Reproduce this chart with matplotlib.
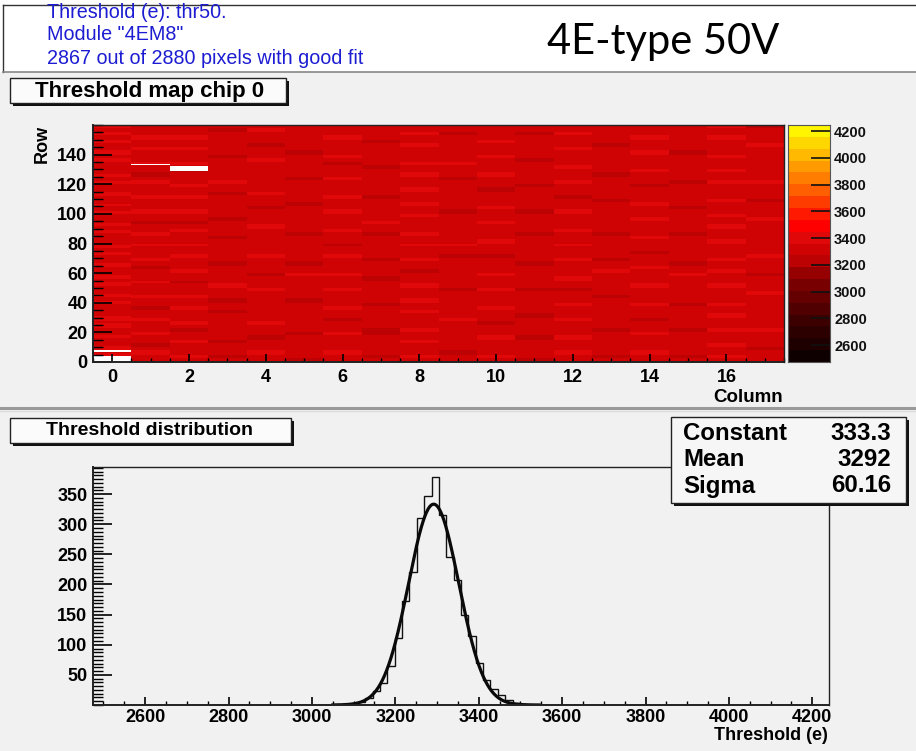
import numpy as np
import matplotlib
matplotlib.use('Agg')
import matplotlib.pyplot as plt
from matplotlib.colors import ListedColormap, BoundaryNorm
from matplotlib.patches import Rectangle
from matplotlib.ticker import MultipleLocator

# ---------------- data ----------------
header_lines = ['Threshold (e): thr50.', 'Module "4EM8"', '2867 out of 2880 pixels with good fit']
big_label = '4E-type 50V'
map_title = 'Threshold map chip 0'
hist_title = 'Threshold distribution'

n_cols, n_rows = 18, 160
# per-column pattern, bottom->top, d=darker / m=typical / b=brighter threshold
level_values = {'d': 3230.0, 'm': 3310.0, 'b': 3400.0}
column_patterns = [
    "mbmbmmbmmbmbmmmbmbmmbmbmmbmmbmbmmmbmbmmbmbmmbmmbmbmmmbmbmmbmbmb",
    "mmbmdmmbmmmbmmdmmbmmmbmmmdmbmmmbmmbmmdmmbmmmbmmmbmdmmbmmmbmmbmmm",
    "mbmmmbmmdmbmmmbmmbmmmdmmbmmmbmmbmmmbmdmmbmmmbmmbmmmdmbmmmbmmbmmm",
    "mdmmmdmmmmmmmdmmdmmmbmmmmmdmmmmmmdmmmmdmmmmmmdmmbmmmmmmdmmmmmmdm",
    "mmbmmmdmmmbmmmmmmmmbmmmdmmmmbmmmmmmmbmmmmdmmmbmmmmmmmmbmmmdmmmbm",
    "dmmmmmmdmmmmmmmmdmmmmmmbmmdmmmmmmmdmmmmmmmdmmmmmmdmmmmmmdmmmmmmm",
    "mmbmmmmbmmmdmmbmmmmbmmmbmmmmbmmdmmmbmmmmbmmmbmmmmbmmmdmbmmmmbmmm",
    "mdmmmmmddmmmmmmdmmmmmmdmmmmdmmmmmmdmmbmmmmmmdmmmmmmmdmmmmmmdmmmm",
    "mbmmmbmmbmmmmbmmbmmmbmmmdmmbmmmbmmbmmmmbmmbmmmbmmmbmmbmmmmbmmbmm",
    "mmdmmmmmmmmbmmmmmmmdmmmmmmmmdmmbmmmmmmmmdmmmmmmmmdmmmbmmmmmmmdmm",
    "mbmmmmbmmmdmmmbmmmmbmmmbmmmmdmmmbmmmmbmmmbmmmmdmmmbmmmmbmmmbmmmm",
    "dmmmmmdmmmmmdmmmmmmdmmmmmmdmmmmmmmdmmmmmdmmmmmmdmmmmmmdmmmmmmdmm",
    "mmbmmmbmmmmbmmmbmmmdmmbmmmmbmmmbmmmbmmmmbmmmdmmmbmmmbmmmmbmmmbmm",
    "mdmmmmmmdmmmmmmmmdmmmmmmbmmdmmmmmmdmmmmmmmmdmmmmmmdmmmmmmmdmmmmm",
    "mmbmmmmbmmmdmmmbmmmmbmmmmbmmmdmmmbmmmmbmmmbmmmmdmmmbmmmmbmmmbmmm",
    "mdmmmmmmdmmmmmmdmmmmmmmbmmdmmmmmmmdmmmmmmdmmmmmmdmmmmmmmdmmmmmmm",
    "mbmmbmmmbmmmbmmbmmmmbmmmbmmbmmmmbmmmbmmbmmmbmmmmbmmbmmmbmmmmbmmb",
    "mmmdmmmmbmmmmmmmmmbmmmmdmmmmbmmmmmmmmmbmmmmdmmmmbmmmmmmmmmbmmmmd",
]
bad_pixels = [(0, 0), (0, 1), (0, 2), (0, 3), (0, 7), (1, 133), (2, 129), (2, 130), (2, 131)]
map_yticks = [0, 20, 40, 60, 80, 100, 120, 140]

z_min, z_max, n_levels = 2473.0, 4245.0, 20
band_colors = ['#0f0000', '#1e0000', '#2d0000', '#3c0000', '#500000', '#640000',
               '#780000', '#960000', '#bc0202', '#cf0303', '#e00808', '#ff0000',
               '#ff1900', '#ff3c00', '#ff5f00', '#ff7d00', '#ff9b00', '#ffb900',
               '#ffd700', '#fff500']
cbar_ticks = [2600, 2800, 3000, 3200, 3400, 3600, 3800, 4000, 4200]

hist_lo, hist_hi, hist_nbins = 2475.0, 4240.0, 100
hist_first_bin = 34
hist_counts = [1, 2, 5, 11, 24, 37, 64, 111, 172, 221, 310, 347, 378, 315, 246,
               208, 150, 114, 70, 42, 26, 16, 8, 3, 1]
hist_yticks = [50, 100, 150, 200, 250, 300, 350]
fit_constant, fit_mean, fit_sigma = 333.3, 3292.0, 60.16
fit_range = (3050.0, 3545.0)
stats_names = ['Constant', 'Mean', 'Sigma']
stats_values = ['333.3', '3292', '60.16']

# ---------------- figure ----------------
W, H = 916, 751
BG = '#f1f1f1'
fig = plt.figure(figsize=(W / 100, H / 100), dpi=100)
fig.patch.set_facecolor(BG)
plt.rcParams['font.family'] = ['Liberation Sans', 'DejaVu Sans']


def fx(x):
    return x / W


def fy(y):
    return 1 - y / H


def add_axes_px(x0, y0, x1, y1):
    return fig.add_axes([fx(x0), fy(y1), (x1 - x0) / W, (y1 - y0) / H])


def rect_px(x0, y0, x1, y1, **kw):
    r = Rectangle((fx(x0), fy(y1)), (x1 - x0) / W, (y1 - y0) / H,
                  transform=fig.transFigure, **kw)
    fig.patches.append(r)
    return r


def fig_line(x0, y0, x1, y1, **kw):
    fig.lines.append(plt.Line2D([fx(x0), fx(x1)], [fy(y0), fy(y1)],
                                transform=fig.transFigure, **kw))


def shadow_box(x0, y0, x1, y1, fc='#fbfbfb', sh=3):
    rect_px(x0 + sh, y0 + sh, x1 + sh, y1 + sh, facecolor='#111111', edgecolor='none', zorder=5)
    rect_px(x0, y0, x1, y1, facecolor=fc, edgecolor='#222222', linewidth=1.0, zorder=6)


# header box
rect_px(-2, -2, W + 2, 72, facecolor='white', edgecolor='none', zorder=1)
fig_line(3, 5, W, 5, color='#333333', lw=1)
fig_line(3, 5, 3, 72, color='#333333', lw=1)
fig_line(3, 72, W, 72, color='#888888', lw=1.2)
for i, (line, yy) in enumerate(zip(header_lines, [13, 35, 58])):
    fig.text(fx(47), fy(yy), line, color='#1c1cd2', fontsize=14.2,
             ha='left', va='center', zorder=10)
fig.text(fx(663), fy(42), big_label, fontsize=30, family=['Lato', 'DejaVu Sans'],
         ha='center', va='center', color='black', zorder=10)

# pad separator
fig_line(0, 408, W, 408, color='#9a9a9a', lw=2.2)
fig_line(0, 411, W, 411, color='#dcdcdc', lw=1)

# ---------------- heatmap ----------------
grid = np.zeros((n_rows, n_cols))
for c, pat in enumerate(column_patterns):
    for r in range(n_rows):
        grid[r, c] = level_values[pat[r * len(pat) // n_rows]]
mask = np.zeros_like(grid, dtype=bool)
for c, r in bad_pixels:
    mask[r, c] = True
zdata = np.ma.array(grid, mask=mask)

cmap = ListedColormap(band_colors)
cmap.set_bad('white')
bounds = np.linspace(z_min, z_max, n_levels + 1)
norm = BoundaryNorm(bounds, cmap.N)

TICK_FS = 13
ax_map = add_axes_px(93, 125, 784, 362)
ax_map.pcolormesh(np.arange(n_cols + 1) - 0.5, np.arange(n_rows + 1), zdata,
                  cmap=cmap, norm=norm, shading='flat')
ax_map.set_xlim(-0.5, n_cols - 0.5)
ax_map.set_ylim(0, n_rows)
ax_map.xaxis.set_major_locator(MultipleLocator(2))
ax_map.xaxis.set_minor_locator(MultipleLocator(0.5))
ax_map.set_yticks(map_yticks)
ax_map.yaxis.set_minor_locator(MultipleLocator(5))
ax_map.tick_params(axis='x', which='major', direction='in', length=6, width=1.2, pad=5,
                   labelsize=TICK_FS, top=False)
ax_map.tick_params(axis='x', which='minor', direction='in', length=3, width=1, top=False)
ax_map.tick_params(axis='y', which='major', direction='in', length=14, width=1.2, pad=4,
                   labelsize=TICK_FS, right=False)
ax_map.tick_params(axis='y', which='minor', direction='in', length=7, width=1, right=False)
for lab in ax_map.get_xticklabels() + ax_map.get_yticklabels():
    lab.set_fontweight('bold')
for sp in ax_map.spines.values():
    sp.set_color('#222222')
    sp.set_linewidth(1.0)
ax_map.spines['left'].set_linewidth(1.4)
ax_map.spines['bottom'].set_linewidth(1.4)
ax_map.set_zorder(3)

fig.text(fx(42), fy(125), 'Row', rotation=90, ha='center', va='top', fontsize=13,
         fontweight='bold')
fig.text(fx(783), fy(397), 'Column', ha='right', va='center', fontsize=13.5,
         fontweight='bold')

# colour bar
ax_cb = add_axes_px(788, 125, 830, 362)
centers = 0.5 * (bounds[:-1] + bounds[1:])
ax_cb.pcolormesh([0, 1], bounds, centers.reshape(-1, 1), cmap=cmap, norm=norm, shading='flat')
ax_cb.set_xlim(0, 1)
ax_cb.set_ylim(z_min, z_max)
ax_cb.set_xticks([])
ax_cb.yaxis.tick_right()
ax_cb.set_yticks(cbar_ticks)
ax_cb.tick_params(axis='y', direction='in', length=14, width=1.2, pad=3, labelsize=10.5,
                  colors='#111111', left=False)
for lab in ax_cb.get_yticklabels():
    lab.set_fontweight('bold')
for sp in ax_cb.spines.values():
    sp.set_color('#555555')
    sp.set_linewidth(0.8)
ax_cb.set_zorder(3)

# title box (map)
shadow_box(10, 78, 286, 103)
fig.text(fx(150), fy(91), map_title, ha='center', va='center', fontsize=16,
         fontweight='bold', zorder=10)

# ---------------- histogram ----------------
edges = np.linspace(hist_lo, hist_hi, hist_nbins + 1)
counts = np.zeros(hist_nbins)
counts[hist_first_bin:hist_first_bin + len(hist_counts)] = hist_counts

ax_h = add_axes_px(93, 467, 829, 705)
ax_h.set_facecolor(BG)
ax_h.stairs(counts, edges, color='#111111', linewidth=1.0)
xf = np.linspace(fit_range[0], fit_range[1], 400)
yf = fit_constant * np.exp(-0.5 * ((xf - fit_mean) / fit_sigma) ** 2)
ax_h.plot(xf, yf, color='#0a0a0a', linewidth=2.3)
ax_h.set_xlim(hist_lo, hist_hi)
ax_h.set_ylim(0, 395)
ax_h.xaxis.set_major_locator(MultipleLocator(200))
ax_h.xaxis.set_minor_locator(MultipleLocator(50))
ax_h.set_yticks(hist_yticks)
ax_h.yaxis.set_minor_locator(MultipleLocator(6.25))
ax_h.tick_params(axis='x', which='major', direction='in', length=6, width=1.2, pad=3,
                 labelsize=TICK_FS, top=False)
ax_h.tick_params(axis='x', which='minor', direction='in', length=3, width=1, top=False)
ax_h.tick_params(axis='y', which='major', direction='in', length=14, width=1.2, pad=4,
                 labelsize=TICK_FS, right=False)
ax_h.tick_params(axis='y', which='minor', direction='in', length=7, width=1, right=False)
for lab in ax_h.get_xticklabels() + ax_h.get_yticklabels():
    lab.set_fontweight('bold')
for sp in ax_h.spines.values():
    sp.set_color('#222222')
    sp.set_linewidth(1.0)
ax_h.spines['left'].set_linewidth(1.4)
ax_h.spines['bottom'].set_linewidth(1.4)
ax_h.set_zorder(3)
fig.text(fx(828), fy(736), 'Threshold (e)', ha='right', va='center', fontsize=13,
         fontweight='bold')

shadow_box(10, 418, 291, 443)
fig.text(fx(149), fy(430.5), hist_title, ha='center', va='center', fontsize=14,
         fontweight='bold', zorder=10)

# stats box (drawn above histogram frame)
ax_st = add_axes_px(671, 417, 906, 503)
ax_st.set_zorder(8)
ax_st.axis('off')
ax_st.add_patch(Rectangle((3 / 235, -3 / 86), 1, 1, transform=ax_st.transAxes,
                          facecolor='#111111', edgecolor='none', clip_on=False))
ax_st.add_patch(Rectangle((0, 0), 1, 1, transform=ax_st.transAxes,
                          facecolor='#f6f6f6', edgecolor='#222222', linewidth=1.0, clip_on=False))
for i, (nm, val) in enumerate(zip(stats_names, stats_values)):
    yy = 1 - (16 + i * 26.5) / 86
    ax_st.text(12 / 235, yy, nm, ha='left', va='center', fontsize=17.3, fontweight='bold',
               transform=ax_st.transAxes)
    ax_st.text(1 - 15 / 235, yy, val, ha='right', va='center', fontsize=17.3, fontweight='bold',
               transform=ax_st.transAxes)

fig.savefig('out.png', dpi=100, facecolor=fig.get_facecolor())
